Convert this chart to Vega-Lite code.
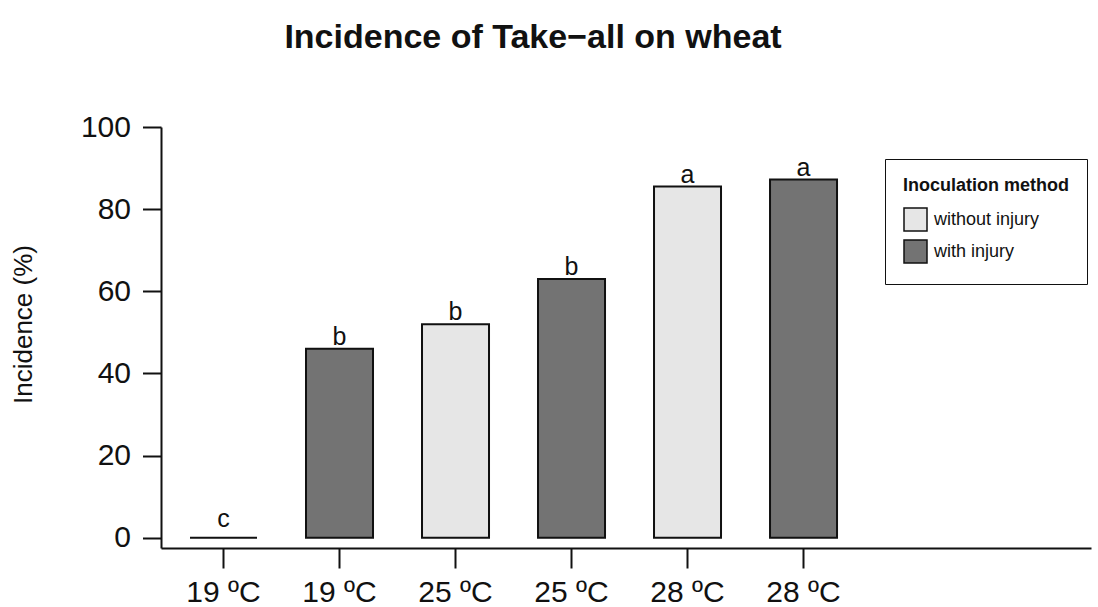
{
  "$schema": "https://vega.github.io/schema/vega-lite/v6.json",
  "autosize": {"type": "none"},
  "width": 930,
  "height": 421,
  "padding": {"left": 161, "top": 127, "right": 7, "bottom": 59},
  "background": "white",
  "title": {
    "text": "Incidence of Take−all on wheat",
    "fontSize": 34,
    "fontWeight": "bold",
    "anchor": "middle",
    "frame": "group",
    "dx": -93,
    "baseline": "alphabetic",
    "offset": 30,
    "color": "#111111"
  },
  "data": {
    "values": [
      {"cond": "19 ºC|without", "method": "without injury", "incidence": 0, "letter": "c"},
      {"cond": "19 ºC|with", "method": "with injury", "incidence": 46, "letter": "b"},
      {"cond": "25 ºC|without", "method": "without injury", "incidence": 52, "letter": "b"},
      {"cond": "25 ºC|with", "method": "with injury", "incidence": 63, "letter": "b"},
      {"cond": "28 ºC|without", "method": "without injury", "incidence": 85.5, "letter": "a"},
      {"cond": "28 ºC|with", "method": "with injury", "incidence": 87.2, "letter": "a"}
    ]
  },
  "encoding": {
    "x": {
      "field": "cond",
      "type": "nominal",
      "sort": null,
      "scale": {
        "domain": ["19 ºC|without", "19 ºC|with", "25 ºC|without", "25 ºC|with", "28 ºC|without", "28 ºC|with", "pad"],
        "paddingInner": 0.4224, "paddingOuter": 0.7197, "align": 0.1737, "round": false
      },
      "axis": {
        "title": null,
        "values": ["19 ºC|without", "19 ºC|with", "25 ºC|without", "25 ºC|with", "28 ºC|without", "28 ºC|with"],
        "labelExpr": "split(datum.value, '|')[0]",
        "labelAngle": 0,
        "labelFontSize": 30,
        "labelPadding": 9,
        "labelColor": "#111111",
        "tickSize": 20,
        "tickWidth": 2,
        "tickColor": "#111111",
        "domainColor": "#111111",
        "domainWidth": 2,
        "bandPosition": 0.5,
        "grid": false
      }
    },
    "y": {
      "field": "incidence",
      "type": "quantitative",
      "scale": {"domain": [-2.5, 100], "nice": false, "zero": false},
      "axis": {
        "title": "Incidence (%)",
        "values": [0, 20, 40, 60, 80, 100],
        "labelFontSize": 30,
        "labelPadding": 12,
        "labelColor": "#111111",
        "tickSize": 18.5,
        "tickWidth": 2,
        "tickColor": "#111111",
        "domainColor": "#111111",
        "domainWidth": 2,
        "grid": false,
        "titleFontSize": 26,
        "titleFontWeight": "normal",
        "titleColor": "#111111",
        "titleX": -130,
        "titleY": 197,
        "titleAlign": "center",
        "titleBaseline": "alphabetic",
        "titleAngle": -90
      }
    }
  },
  "layer": [
    {
      "mark": {"type": "bar", "stroke": "#111111", "strokeWidth": 2},
      "encoding": {
        "y2": {"datum": 0},
        "color": {
          "field": "method",
          "type": "nominal",
          "scale": {"domain": ["without injury", "with injury"], "range": ["#e6e6e6", "#737373"]},
          "legend": {
            "orient": "none",
            "legendX": 724,
            "legendY": 32,
            "title": "Inoculation method",
            "titleFontSize": 18,
            "titleFontWeight": "bold",
            "titleColor": "#111111",
            "titlePadding": 12,
            "labelFontSize": 18,
            "labelColor": "#111111",
            "labelOffset": 6,
            "symbolType": "square",
            "symbolSize": 529,
            "symbolStrokeColor": "#111111",
            "symbolStrokeWidth": 1.5,
            "rowPadding": 3,
            "padding": 18,
            "strokeColor": "#111111",
            "fillColor": "white"
          }
        }
      }
    },
    {
      "transform": [{"filter": "datum.incidence > 0"}],
      "mark": {"type": "text", "baseline": "alphabetic", "dy": -4, "fontSize": 25, "color": "#111111"},
      "encoding": {"text": {"field": "letter"}}
    },
    {
      "transform": [{"filter": "datum.incidence == 0"}],
      "mark": {"type": "text", "baseline": "alphabetic", "dy": -11, "fontSize": 25, "color": "#111111"},
      "encoding": {"text": {"field": "letter"}}
    }
  ],
  "config": {
    "font": "Liberation Sans",
    "view": {"stroke": null}
  }
}
